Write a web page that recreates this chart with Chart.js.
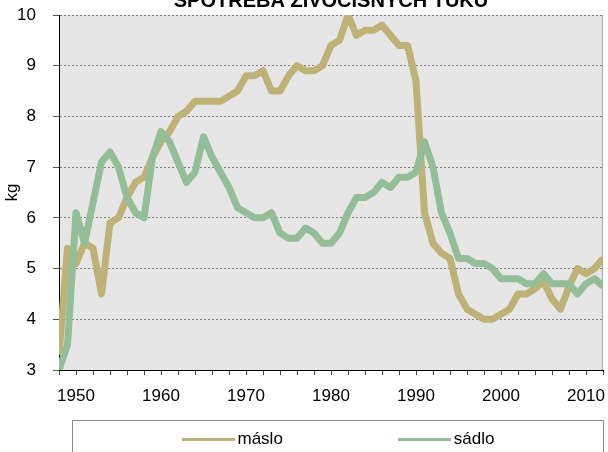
<!DOCTYPE html>
<html>
<head>
<meta charset="utf-8">
<script src="https://cdn.jsdelivr.net/npm/chart.js@4"></script>
<style>
  body { margin: 0; background: #fff; }
  .wrap { position: relative; width: 608px; height: 452px; overflow: hidden; }
  #legend {
    position: absolute; left: 72px; top: 420px; width: 532px; height: 60px;
    border: 1px solid #8c8c8c; box-sizing: border-box; padding-top: 8px;
    display: flex; justify-content: center; align-items: flex-start; gap: 115px;
    font: 17px "Liberation Sans", Arial, sans-serif; line-height: 20px; color: #000;
  }
  #legend .item { display: flex; align-items: center; height: 20px; }
  #legend .swatch { width: 53px; height: 3px; margin-right: 3px; }
</style>
</head>
<body>
<div class="wrap">
  <canvas id="chart" width="608" height="452"></canvas>
  <div id="legend"></div>
</div>
<script>
const years = [];
for (let y = 1948; y <= 2012; y++) years.push(y);

// spotřeba v kg na obyvatele
const maslo = [
  3.3, 5.4, 5.1, 5.5, 5.4, 4.5, 5.9, 6.0, 6.4, 6.7, 6.8, 7.2,   // 1948-1959
  7.5, 7.7, 8.0, 8.1, 8.3, 8.3, 8.3, 8.3, 8.4, 8.5,             // 1960-1969
  8.8, 8.8, 8.9, 8.5, 8.5, 8.8, 9.0, 8.9, 8.9, 9.0,             // 1970-1979
  9.4, 9.5, 10.0, 9.6, 9.7, 9.7, 9.8, 9.6, 9.4, 9.4,            // 1980-1989
  8.7, 6.1, 5.5, 5.3, 5.2, 4.5, 4.2, 4.1, 4.0, 4.0,             // 1990-1999
  4.1, 4.2, 4.5, 4.5, 4.6, 4.75, 4.4, 4.2, 4.65, 5.0,           // 2000-2009
  4.9, 5.0, 5.2                                                 // 2010-2012
];
const sadlo = [
  3.0, 3.5, 6.1, 5.5, 6.3, 7.1, 7.3, 7.0, 6.4, 6.1, 6.0, 7.2,   // 1948-1959
  7.7, 7.5, 7.1, 6.7, 6.9, 7.6, 7.2, 6.9, 6.6, 6.2,             // 1960-1969
  6.1, 6.0, 6.0, 6.1, 5.7, 5.6, 5.6, 5.8, 5.7, 5.5,             // 1970-1979
  5.5, 5.7, 6.1, 6.4, 6.4, 6.5, 6.7, 6.6, 6.8, 6.8,             // 1980-1989
  6.9, 7.5, 7.0, 6.1, 5.7, 5.2, 5.2, 5.1, 5.1, 5.0,             // 1990-1999
  4.8, 4.8, 4.8, 4.7, 4.7, 4.9, 4.7, 4.7, 4.7, 4.5,             // 2000-2009
  4.7, 4.8, 4.65                                                // 2010-2012
];
const seriesNames = ['máslo', 'sádlo'];
const seriesColors = ['#bfb276', '#93be98'];

const plotBg = {
  id: 'plotBg',
  beforeDraw(chart) {
    const { ctx, chartArea: a } = chart;
    ctx.save();
    ctx.fillStyle = '#fff';
    ctx.fillRect(0, 0, chart.width, chart.height);
    ctx.fillStyle = '#e6e6e6';
    ctx.fillRect(a.left, a.top, a.right - a.left, a.bottom - a.top);
    ctx.strokeStyle = '#a6a6a6';
    ctx.lineWidth = 1;
    ctx.beginPath();
    ctx.moveTo(a.right - 0.5, a.top);
    ctx.lineTo(a.right - 0.5, a.bottom);
    ctx.stroke();
    ctx.restore();
  }
};

// tick labels may overflow the plot edges, like in Excel
function noEdgePadding(scale) {
  scale.paddingTop = 0;
  scale.paddingBottom = 0;
  scale.paddingLeft = 0;
  scale.paddingRight = 0;
}

Chart.defaults.font.family = '"Liberation Sans", Arial, sans-serif';
Chart.defaults.font.size = 17;
Chart.defaults.color = '#000';

const chart = new Chart(document.getElementById('chart'), {
  type: 'line',
  data: {
    datasets: [maslo, sadlo].map((vals, i) => ({
      label: seriesNames[i],
      data: years.map((y, j) => ({ x: y, y: vals[j] })),
      borderColor: seriesColors[i],
      backgroundColor: seriesColors[i],
      borderWidth: 7,
      borderJoinStyle: 'round',
      pointRadius: 0,
      tension: 0,
      clip: 0,
      order: 1 - i
    }))
  },
  options: {
    responsive: false,
    animation: false,
    devicePixelRatio: 1,
    layout: { padding: { left: 0, right: 5, top: 0, bottom: 47 } },
    plugins: {
      legend: { display: false },
      tooltip: { enabled: false },
      title: {
        display: true,
        fullSize: false,
        text: 'SPOTŘEBA ŽIVOČIŠNÝCH TUKŮ',
        color: '#000',
        font: { size: 20, weight: 'bold' },
        padding: { top: -11, bottom: 2 }
      }
    },
    scales: {
      x: {
        type: 'linear',
        min: 1948,
        max: 2012,
        afterFit(scale) { scale.height = 35; noEdgePadding(scale); },
        ticks: {
          stepSize: 2,
          autoSkip: false,
          maxRotation: 0,
          padding: 11,
          callback: v => (v % 10 === 0 ? String(v) : '')
        },
        grid: { drawOnChartArea: false, drawTicks: true, tickLength: 5, tickColor: '#404040' },
        border: { color: '#000', width: 1 }
      },
      y: {
        min: 3,
        max: 10,
        afterFit(scale) { scale.width = 59; noEdgePadding(scale); },
        ticks: { stepSize: 1, padding: 17 },
        title: { display: true, text: 'kg', padding: { top: 2 } },
        grid: { color: '#7f7f7f', lineWidth: 1, tickLength: 6, tickColor: '#555', tickBorderDash: [] },
        border: { color: '#000', width: 1, dash: [2, 2] }
      }
    }
  },
  plugins: [plotBg]
});

// legenda jako HTML pod grafem
const legendEl = document.getElementById('legend');
chart.data.datasets.forEach(ds => {
  const item = document.createElement('span');
  item.className = 'item';
  const sw = document.createElement('span');
  sw.className = 'swatch';
  sw.style.background = ds.borderColor;
  item.appendChild(sw);
  item.appendChild(document.createTextNode(ds.label));
  legendEl.appendChild(item);
});
</script>
</body>
</html>
